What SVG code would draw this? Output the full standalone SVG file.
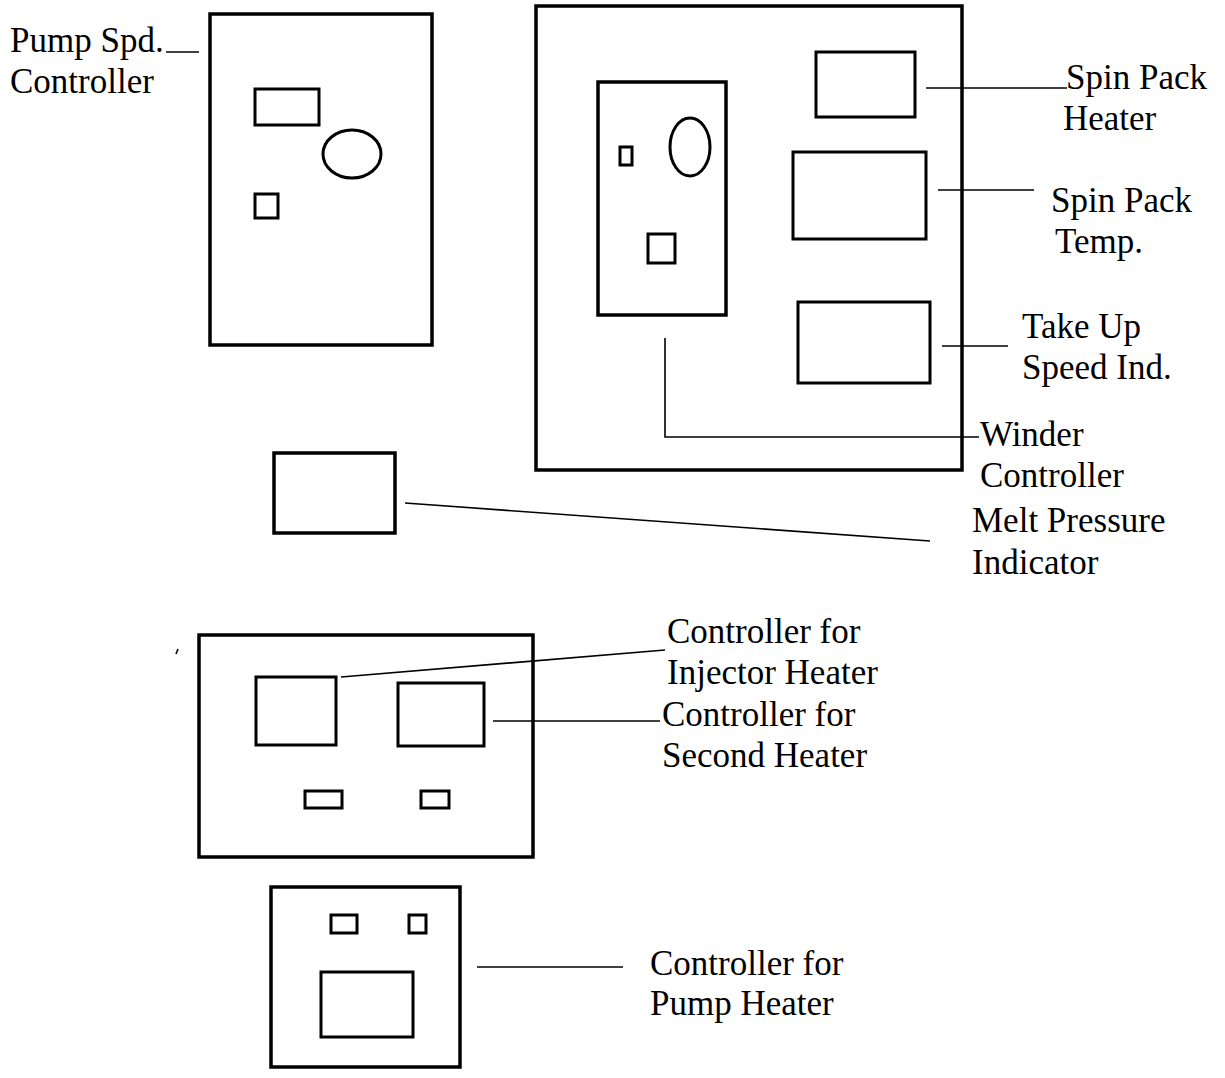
<svg xmlns="http://www.w3.org/2000/svg" width="1225" height="1078" viewBox="0 0 1225 1078">
<style>
.box{fill:none;stroke:#000;stroke-width:3.5}
.sm{fill:none;stroke:#000;stroke-width:3}
.ln{fill:none;stroke:#000;stroke-width:1.6}
text{font-family:"Liberation Serif","Times New Roman",serif;font-size:35px;fill:#000}
</style>
<rect width="1225" height="1078" fill="#fff"/>
<g id="pump-spd-panel">
<rect class="box" x="210" y="14" width="222" height="331"/>
<rect class="sm" x="255" y="89" width="64" height="36"/>
<ellipse class="sm" cx="352" cy="154" rx="29" ry="24"/>
<rect class="sm" x="255" y="194" width="23" height="24"/>
</g>
<g id="main-panel">
<rect class="box" x="536" y="6" width="426" height="464"/>
</g>
<g id="winder-panel">
<rect class="box" x="598" y="82" width="128" height="233"/>
<rect class="sm" x="620" y="147" width="12" height="18"/>
<ellipse class="sm" cx="690" cy="147" rx="20" ry="29"/>
<rect class="sm" x="648" y="234" width="27" height="29"/>
</g>
<g id="spin-pack-heater">
<rect class="sm" x="816" y="52" width="99" height="65"/>
</g>
<g id="spin-pack-temp">
<rect class="sm" x="793" y="152" width="133" height="87"/>
</g>
<g id="take-up-speed">
<rect class="sm" x="798" y="302" width="132" height="81"/>
</g>
<g id="melt-pressure">
<rect class="box" x="274" y="453" width="121" height="80"/>
</g>
<g id="heater-panel">
<rect class="box" x="199" y="635" width="334" height="222"/>
<rect class="sm" x="256" y="677" width="80" height="68"/>
<rect class="sm" x="398" y="683" width="86" height="63"/>
<rect class="sm" x="305" y="791" width="37" height="17"/>
<rect class="sm" x="421" y="791" width="28" height="17"/>
</g>
<g id="pump-heater-panel">
<rect class="box" x="271" y="887" width="189" height="180"/>
<rect class="sm" x="331" y="915" width="26" height="18"/>
<rect class="sm" x="409" y="915" width="17" height="18"/>
<rect class="sm" x="321" y="972" width="92" height="65"/>
</g>
<g id="connectors">
<line class="ln" x1="166" y1="52" x2="199" y2="52"/>
<line class="ln" x1="926" y1="88" x2="1067" y2="88"/>
<line class="ln" x1="938" y1="190" x2="1034" y2="190"/>
<line class="ln" x1="942" y1="346" x2="1008" y2="346"/>
<polyline class="ln" points="665,338 665,437 979,437"/>
<line class="ln" x1="405" y1="503" x2="930" y2="541"/>
<line class="ln" x1="341" y1="677" x2="665" y2="650"/>
<line class="ln" x1="493" y1="721" x2="660" y2="721"/>
<line class="ln" x1="477" y1="967" x2="623" y2="967"/>
<line class="ln" x1="176" y1="654" x2="178" y2="649"/>
</g>
<g id="labels">
<text x="10" y="52">Pump Spd.</text>
<text x="10" y="93">Controller</text>
<text x="1066" y="89">Spin Pack</text>
<text x="1063" y="130">Heater</text>
<text x="1051" y="212">Spin Pack</text>
<text x="1055" y="253">Temp.</text>
<text x="1022" y="338">Take Up</text>
<text x="1022" y="379">Speed Ind.</text>
<text x="980" y="446">Winder</text>
<text x="980" y="487">Controller</text>
<text x="972" y="532">Melt Pressure</text>
<text x="972" y="574">Indicator</text>
<text x="667" y="643">Controller for</text>
<text x="667" y="684">Injector Heater</text>
<text x="662" y="726">Controller for</text>
<text x="662" y="767">Second Heater</text>
<text x="650" y="975">Controller for</text>
<text x="650" y="1015">Pump Heater</text>
</g>
</svg>
